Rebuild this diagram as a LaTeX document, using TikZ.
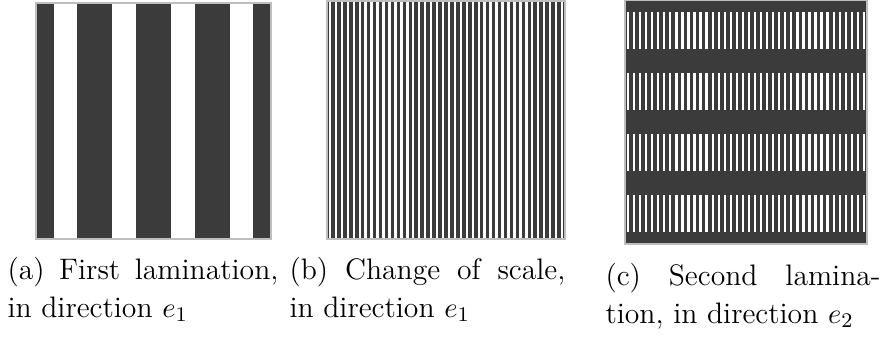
\documentclass[tikz,border=0pt]{standalone}
\usepackage{tikz}
\definecolor{dark}{HTML}{3B3B3B}
\definecolor{rim}{HTML}{BEBEBE}
\tikzset{
  panel/.style={fill=dark},
  rimline/.style={draw=rim, line width=0.4pt},
  capt/.style={anchor=base west, inner sep=0pt, align=justify,
    font=\fontsize{11.4}{14.3}\selectfont}
}
\begin{document}
\begin{tikzpicture}[x=0.3846pt,y=-0.3846pt]
\useasboundingbox (0,0) rectangle (885,345);
% panel (a)
\fill[panel] (36,3) rectangle (271,239);
\foreach \i in {0,...,3}
  \fill[white] ({36+(0.3+\i)*58.75},3) rectangle ({36+(0.7+\i)*58.75},239);
\draw[rimline] (36,3) rectangle (271,239);
% panel (b)
\fill[panel] (327,1) rectangle (565,239);
\foreach \i in {0,...,39}
  \fill[white] ({327+(0.3+\i)*5.95},1) rectangle ({327+(0.7+\i)*5.95},239);
\draw[rimline] (327,1) rectangle (565,239);
% panel (c)
\fill[panel] (625,0) rectangle (867,244);
\foreach \j in {0,...,3}
  \foreach \i in {0,...,39}
    \fill[white] ({625+(0.3+\i)*6.05},{(0.2+\j)*61}) rectangle ({625+(0.68+\i)*6.05},{(0.8+\j)*61});
\draw[rimline] (625,0) rectangle (867,244);
% captions
\node[capt, text width=104.2pt] (capa) at (7,280)
  {(a) First lamination,\linebreak in direction $e_1$};
\node[capt, text width=106.1pt] (capb) at (289,280)
  {(b) Change of scale,\linebreak in direction $e_1$};
\node[capt, text width=105.8pt] (capc) at (605,286)
  {(c) Second lamina-\linebreak tion, in direction $e_2$};
\end{tikzpicture}
\end{document}
